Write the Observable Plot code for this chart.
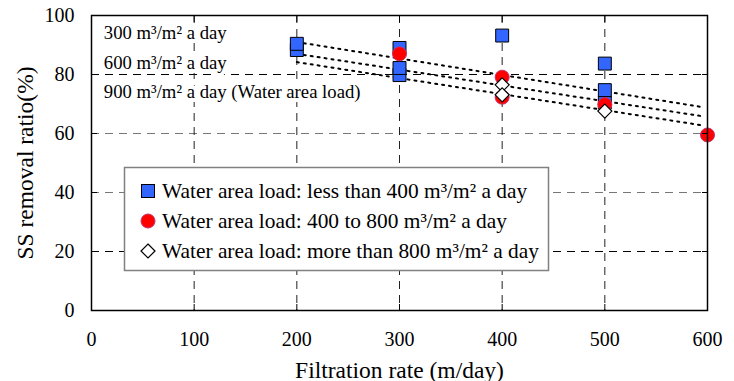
<!DOCTYPE html>
<html>
<head>
<meta charset="utf-8">
<script src="https://cdn.jsdelivr.net/npm/d3@7"></script>
<script src="https://cdn.jsdelivr.net/npm/@observablehq/plot@0.6"></script>
<style>
  html, body { margin: 0; padding: 0; background: #fff; }
  #chart { position: relative; width: 734px; height: 381px; }
</style>
</head>
<body>
<div id="chart"></div>
<script>
// ---- data ----
const xTicks = [0, 100, 200, 300, 400, 500, 600];
const yTicks = [0, 20, 40, 60, 80, 100];

// Water area load: less than 400 m3/m2 a day
const lowRate = [200, 200, 300, 300, 300, 400, 500, 500, 500];
const lowRatio = [88.3, 90.4, 79.8, 82.2, 89.0, 93.2, 70.5, 74.7, 83.7];

// Water area load: 400 to 800 m3/m2 a day
const midRate = [300, 400, 400, 500, 600];
const midRatio = [87.0, 79.1, 72.3, 69.8, 59.5];

// Water area load: more than 800 m3/m2 a day
const highRate = [400, 400, 500];
const highRatio = [76.5, 73.1, 67.6];

// regression (dotted) lines: [start, end]
const trendRate = [200, 596];
const trend300 = [91.0, 68.9];
const trend600 = [87.0, 65.8];
const trend900 = [84.2, 62.7];

const lineLabels = ["300 m³/m² a day", "600 m³/m² a day", "900 m³/m² a day (Water area load)"];
const legendLabels = [
  "Water area load: less than 400 m³/m² a day",
  "Water area load: 400 to 800 m³/m² a day",
  "Water area load: more than 800 m³/m² a day"
];
const xTitle = "Filtration rate (m/day)";
const yTitle = "SS removal ratio(%)";

// ---- build tables ----
const low = lowRate.map((x, i) => ({x, y: lowRatio[i]}));
const mid = midRate.map((x, i) => ({x, y: midRatio[i]}));
const high = highRate.map((x, i) => ({x, y: highRatio[i]}));
const trends = [trend300, trend600, trend900].map((t, k) =>
  trendRate.map((x, i) => ({x, y: t[i], k})));

const diamond = {
  draw(context, size) {
    const r = Math.sqrt(size) * 0.62625;
    context.moveTo(0, -r); context.lineTo(r, 0); context.lineTo(0, r); context.lineTo(-r, 0); context.closePath();
  }
};

const font = "'Liberation Serif', 'Times New Roman', serif";
const gridColors = {20: "#000", 40: "#777", 60: "#777", 80: "#000"};

const plot = Plot.plot({
  width: 734,
  height: 381,
  marginLeft: 91,
  marginRight: 27,
  marginTop: 15,
  marginBottom: 71,
  style: {fontFamily: font, background: "white", color: "black", overflow: "visible"},
  x: {domain: [0, 600]},
  y: {domain: [0, 100]},
  marks: [
    // grid
    Plot.ruleY([20, 40, 60, 80], {stroke: d => gridColors[d], strokeDasharray: "8,6", strokeWidth: 1}),
    Plot.ruleX([100, 200, 300, 400, 500], {stroke: "#222", strokeDasharray: "8,6", strokeWidth: 1}),
    // trend lines
    ...trends.map(t => Plot.line(t, {x: "x", y: "y", stroke: "black", strokeWidth: 2, strokeDasharray: "2,5"})),
    // label annotations with white backing
    Plot.text([0, 1, 2], {
      x: 12, y: i => [93.9, 84.0, 73.9][i], text: i => lineLabels[i],
      textAnchor: "start", fontSize: 18.7, fill: "black", stroke: "white", strokeWidth: 8
    }),
    // points
    Plot.dot(low, {x: "x", y: "y", symbol: "square", r: 7.3, fill: "#3366FF", stroke: "black", strokeWidth: 1}),
    Plot.dot(mid, {x: "x", y: "y", symbol: "circle", r: 7, fill: "#FF0000", stroke: "#C8306A", strokeWidth: 1}),
    Plot.dot(high, {x: "x", y: "y", symbol: diamond, r: 6.3, fill: "white", stroke: "black", strokeWidth: 1.2}),
    // axes: labels
    Plot.axisX({anchor: "bottom", ticks: xTicks, tickSize: 0, tickPadding: 21, fontSize: 20, label: null}),
    Plot.axisY({anchor: "left", ticks: yTicks, tickSize: 0, tickPadding: 17, fontSize: 20, label: null}),
    // axes: inward ticks
    Plot.axisX({anchor: "bottom", ticks: [100, 200, 300, 400, 500], tickSize: -6, tickFormat: () => "", label: null}),
    Plot.axisX({anchor: "top", ticks: [100, 200, 300, 400, 500], tickSize: -6, tickFormat: () => "", label: null}),
    Plot.axisY({anchor: "left", ticks: [20, 40, 60, 80], tickSize: -6, tickFormat: () => "", label: null}),
    Plot.axisY({anchor: "right", ticks: [20, 40, 60, 80], tickSize: -6, tickFormat: () => "", label: null}),
    Plot.frame({stroke: "black", strokeWidth: 1.5}),
    // titles
    Plot.text([xTitle], {frameAnchor: "bottom", textAnchor: "middle", dy: 67, fontSize: 23.5, text: d => d, fill: "black"}),
    Plot.text([yTitle], {frameAnchor: "left", textAnchor: "middle", dx: -66, rotate: -90, fontSize: 23.5, text: d => d, fill: "black"})
  ]
});

document.getElementById("chart").appendChild(plot);

// ---- white backing boxes behind the annotation labels (derived from their text extents) ----
const svg = d3.select(plot);
const labelGroup = svg.selectAll('g[aria-label="text"]').nodes()[0];
if (labelGroup) {
  const texts = Array.from(labelGroup.querySelectorAll("text"));
  const boxes = texts.map(t => t.getBBox());
  const frameLeft = 91, frameTop = 15;
  const back = d3.select(labelGroup.parentNode).insert("g", () => labelGroup);
  // box around the first two labels
  const b0 = boxes[0], b1 = boxes[1], b2 = boxes[2];
  const right01 = Math.max(b0.x + b0.width, b1.x + b1.width) + 34;
  back.append("rect").attr("x", frameLeft + 1).attr("y", frameTop + 1)
    .attr("width", right01 - frameLeft - 1).attr("height", b1.y + b1.height + 2 - frameTop)
    .attr("fill", "white");
  back.append("rect").attr("x", frameLeft + 1).attr("y", b2.y - 2)
    .attr("width", b2.x + b2.width + 6 - frameLeft).attr("height", b2.height + 6)
    .attr("fill", "white");
}

// ---- legend (drawn into the same svg) ----
const lg = svg.append("g").attr("font-family", font).attr("text-anchor", "start");
lg.append("rect").attr("x", 124.5).attr("y", 167.5).attr("width", 424).attr("height", 103)
  .attr("fill", "white").attr("stroke", "#808080").attr("stroke-width", 1.5);
const rowY = [191, 221, 251];
const mx = 148;
lg.append("rect").attr("x", mx - 6.5).attr("y", rowY[0] - 6.5).attr("width", 13).attr("height", 13)
  .attr("fill", "#3366FF").attr("stroke", "black");
lg.append("circle").attr("cx", mx).attr("cy", rowY[1]).attr("r", 7)
  .attr("fill", "#FF0000").attr("stroke", "#C8306A");
lg.append("path").attr("d", `M${mx},${rowY[2]-7}L${mx+7},${rowY[2]}L${mx},${rowY[2]+7}L${mx-7},${rowY[2]}Z`)
  .attr("fill", "white").attr("stroke", "black").attr("stroke-width", 1.2);
legendLabels.forEach((t, i) => {
  lg.append("text").attr("x", 162).attr("y", rowY[i]).attr("dy", "0.35em")
    .attr("text-anchor", "start").attr("font-size", 21.4).attr("fill", "black").text(t);
});
</script>
</body>
</html>
